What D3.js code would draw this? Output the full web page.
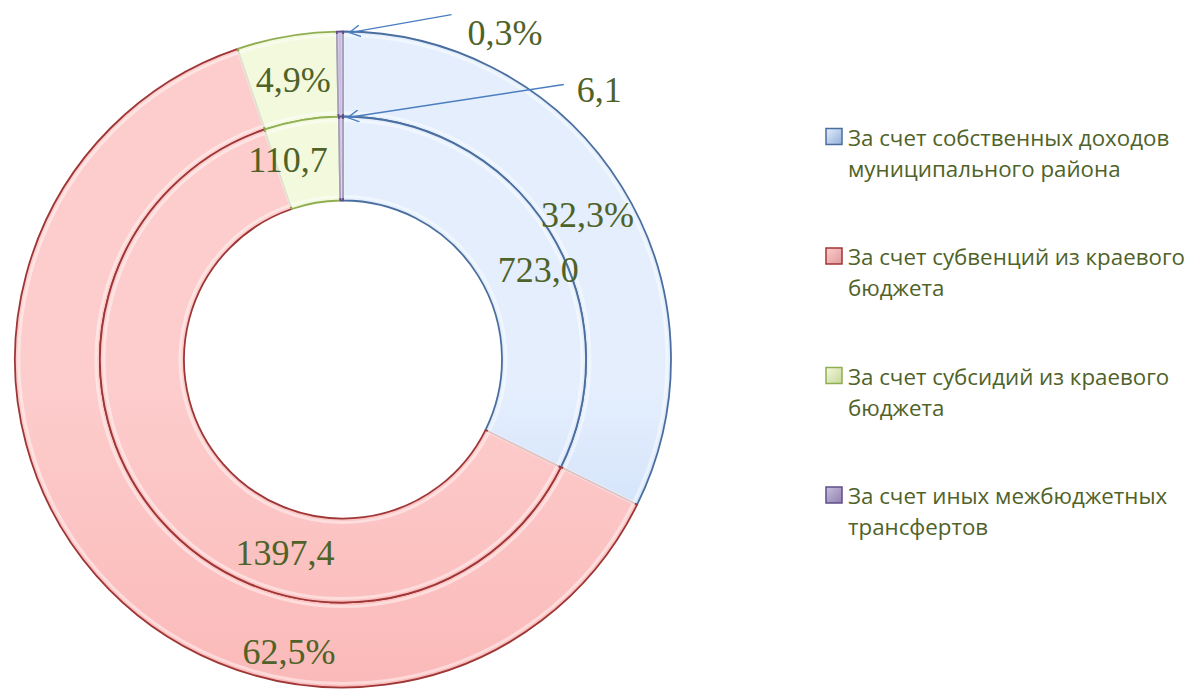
<!DOCTYPE html>
<html>
<head>
<meta charset="utf-8">
<script src="https://cdn.jsdelivr.net/npm/d3@7"></script>
<style>
  body { margin: 0; background: #fff; }
  svg { display: block; }
</style>
</head>
<body>
<div id="chart"></div>
<script>
// data
var categories = [
  ['За счет собственных доходов', 'муниципального района'],
  ['За счет субвенций из краевого', 'бюджета'],
  ['За счет субсидий из краевого', 'бюджета'],
  ['За счет иных межбюджетных', 'трансфертов']
];
var amounts = [723.0, 1397.4, 110.7, 6.1];      // inner ring
var shares = [32.3, 62.5, 4.9, 0.3];            // outer ring, %
var amountLabels = ['723,0', '1397,4', '110,7', '6,1'];
var shareLabels = ['32,3%', '62,5%', '4,9%', '0,3%'];

var width = 1197, height = 690;
var cx = 343, cy = 359.5;
var rOuter = 328, rMid = 243, rInner = 159;

var fills = [
  ['#e4eefd', '#a4c3f3'],
  ['#fdcccc', '#f9abab'],
  ['#f3f9dc', '#ddeeab'],
  ['#c9bedf', '#9f8fc2']
];
var strokes = ['#4a6f9f', '#9e3636', '#8fae52', '#5f4d86'];
var labelColor = '#4f6228';

var svg = d3.select('#chart').append('svg')
  .attr('width', width)
  .attr('height', height);

var defs = svg.append('defs');
fills.forEach(function(f, i) {
  var g = defs.append('linearGradient')
    .attr('id', 'grad' + i)
    .attr('gradientUnits', 'userSpaceOnUse')
    .attr('x1', 0).attr('y1', cy - rOuter)
    .attr('x2', 0).attr('y2', cy + rOuter * 0.6);
  g.append('stop').attr('offset', '0%').attr('stop-color', f[0]);
  g.append('stop').attr('offset', '100%').attr('stop-color', f[1]);
  var lg = defs.append('linearGradient')
    .attr('id', 'lgrad' + i)
    .attr('x1', 0).attr('y1', 0).attr('x2', 1).attr('y2', 1);
  lg.append('stop').attr('offset', '0%').attr('stop-color', f[0]);
  lg.append('stop').attr('offset', '100%').attr('stop-color', d3.color(f[1]).darker(0.3));
});
defs.append('marker')
  .attr('id', 'arrow')
  .attr('viewBox', '0 0 12 12')
  .attr('refX', 11).attr('refY', 6)
  .attr('markerWidth', 12).attr('markerHeight', 12)
  .attr('markerUnits', 'userSpaceOnUse')
  .attr('orient', 'auto')
  .append('path')
    .attr('d', 'M0,0 L11,6 L0,12')
    .attr('fill', 'none')
    .attr('stroke', '#4a7ec0')
    .attr('stroke-width', 1.4);

var pie = d3.pie().sort(null).value(function(d) { return d; });
var outerArcs = pie(shares);
var innerArcs = pie(amounts);

var chart = svg.append('g').attr('transform', 'translate(' + cx + ',' + cy + ')');

function drawRing(arcs, r0, r1, cls) {
  var arc = d3.arc().innerRadius(r0).outerRadius(r1);
  var hi = d3.arc().innerRadius(r0 + 4).outerRadius(r1 - 4);
  var g = chart.append('g').attr('class', cls);
  g.selectAll('path.slice')
    .data(arcs)
    .enter().append('path')
    .attr('class', 'slice')
    .attr('d', arc)
    .attr('fill', function(d, i) { return 'url(#grad' + i + ')'; })
    .attr('stroke', function(d, i) { return strokes[i]; })
    .attr('stroke-width', 1.8)
    .attr('stroke-linejoin', 'round');
  // soft bevel highlight
  g.selectAll('path.hi')
    .data(arcs.filter(function(d) { return d.endAngle - d.startAngle > 0.05; }))
    .enter().append('path')
    .attr('class', 'hi')
    .attr('d', hi)
    .attr('fill', 'none')
    .attr('stroke', '#fff')
    .attr('stroke-opacity', 0.45)
    .attr('stroke-width', 3);
  return arc;
}

drawRing(outerArcs, rMid, rOuter, 'outer');
drawRing(innerArcs, rInner, rMid, 'inner');

// label spots (angle in degrees from top, radius) as placed by the original
var outerSpots = [[59.4, 284], [190.5, 297], [349.9, 284]];
var innerSpots = [[65.3, 215], [196.7, 202], [344.6, 207]];

function polar(deg, r) {
  var a = deg * Math.PI / 180;
  return [r * Math.sin(a), -r * Math.cos(a)];
}

var labelFont = '"Liberation Serif", "Times New Roman", serif';

function putLabels(spots, texts) {
  spots.forEach(function(s, i) {
    var p = polar(s[0], s[1]);
    chart.append('text')
      .attr('x', p[0]).attr('y', p[1])
      .attr('text-anchor', 'middle')
      .attr('dominant-baseline', 'central')
      .attr('font-family', labelFont)
      .attr('font-size', 36)
      .attr('fill', labelColor)
      .text(texts[i]);
  });
}
putLabels(outerSpots, shareLabels);
putLabels(innerSpots, amountLabels);

// callouts for the tiny slice
function callout(arcD, r, dx, dy, tx, ty, text) {
  var tipAngle = arcD.endAngle + 0.02;
  var tip = [r * Math.sin(tipAngle), -r * Math.cos(tipAngle)];
  chart.append('line')
    .attr('x1', tip[0] + dx).attr('y1', tip[1] + dy)
    .attr('x2', tip[0]).attr('y2', tip[1])
    .attr('stroke', '#4a7ec0')
    .attr('stroke-width', 1.4)
    .attr('marker-end', 'url(#arrow)');
  chart.append('text')
    .attr('x', tip[0] + dx + tx).attr('y', tip[1] + dy + ty)
    .attr('font-family', labelFont)
    .attr('font-size', 36)
    .attr('fill', labelColor)
    .attr('dominant-baseline', 'central')
    .text(text);
}
callout(outerArcs[3], rOuter - 1, 102, -18, 16, 18, shareLabels[3]);
callout(innerArcs[3], rMid - 1, 216, -33, 13, 5, amountLabels[3]);

// legend
var legend = svg.append('g').attr('transform', 'translate(826,137)');
var item = legend.selectAll('g')
  .data(categories)
  .enter().append('g')
  .attr('transform', function(d, i) { return 'translate(0,' + (i * 119.5) + ')'; });
item.append('rect')
  .attr('x', 0).attr('y', -8.5)
  .attr('width', 16).attr('height', 16)
  .attr('fill', function(d, i) { return 'url(#lgrad' + i + ')'; })
  .attr('stroke', function(d, i) { return strokes[i]; })
  .attr('stroke-width', 1.5);
item.selectAll('text')
  .data(function(d) { return d; })
  .enter().append('text')
  .attr('x', 22)
  .attr('y', function(d, j) { return j * 31; })
  .attr('dominant-baseline', 'central')
  .attr('font-family', '"Open Sans", sans-serif')
  .attr('font-size', 22.3)
  .attr('fill', labelColor)
  .text(function(d) { return d; });
</script>
</body>
</html>
